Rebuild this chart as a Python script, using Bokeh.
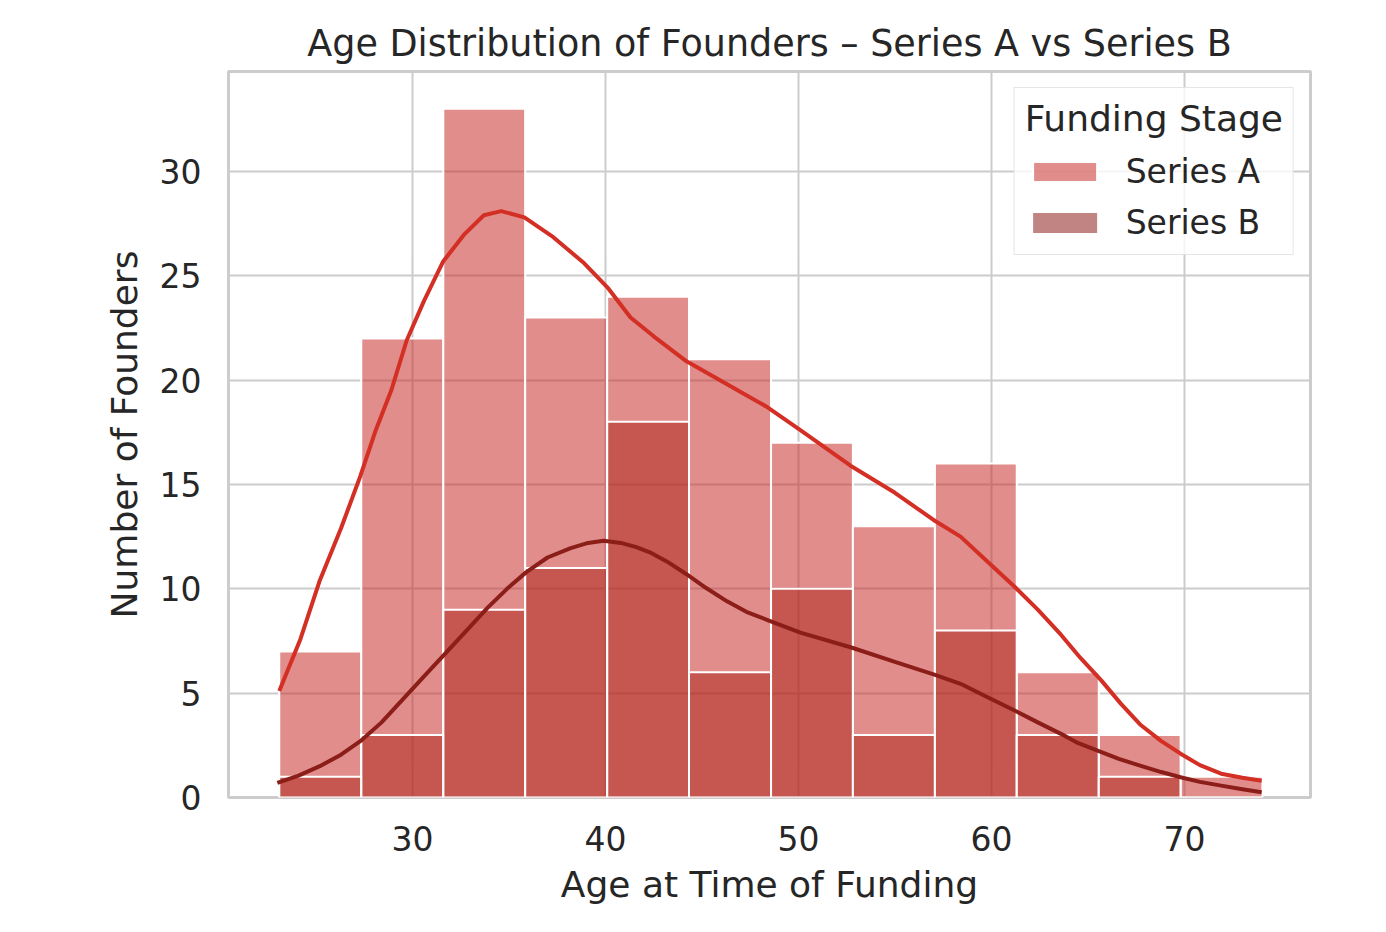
import numpy as np
from bokeh.plotting import figure
from bokeh.models import Legend, LegendItem, Range1d
from bokeh.embed import file_html
from bokeh.resources import INLINE

# histogram bins (age)
bin_edges = [23.1, 27.35, 31.6, 35.84, 40.09, 44.33, 48.58, 52.82, 57.07, 61.31, 65.56, 69.8, 74.04]
counts_a = [7, 22, 33, 23, 24, 21, 17, 13, 16, 6, 3, 1]
counts_b = [1, 3, 9, 11, 18, 6, 10, 3, 8, 3, 1, 0]

# kde curves (scaled to counts), read point by point
kde_x_a = [23.1, 24.2, 25.2, 26.3, 27.3, 28.1, 28.9, 29.7, 30.6, 31.6, 32.7, 33.7, 34.6,
           35.8, 37.3, 38.9, 40.1, 41.3, 42.5, 44.2, 46.3, 48.4, 50.1, 52.7, 55.0, 57.0,
           58.4, 59.8, 61.2, 62.4, 63.6, 64.6, 65.7, 66.7, 67.7, 68.8, 69.8, 70.8, 71.9,
           73.0, 74.0]
kde_y_a = [5.1, 7.6, 10.4, 12.9, 15.4, 17.6, 19.5, 21.9, 23.8, 25.7, 27.0, 27.9, 28.1,
           27.8, 26.85, 25.6, 24.45, 23.0, 22.1, 20.9, 19.8, 18.7, 17.6, 15.9, 14.6, 13.3,
           12.5, 11.3, 10.1, 9.0, 7.8, 6.7, 5.6, 4.5, 3.5, 2.7, 2.1, 1.55, 1.14,
           0.95, 0.8]
kde_x_b = [23.0, 24.1, 25.2, 26.3, 27.3, 28.4, 29.5, 30.6, 31.6, 32.8, 33.9, 34.9, 35.9,
           37.0, 38.2, 39.1, 39.9, 40.8, 41.6, 42.3, 43.2, 44.2, 45.2, 46.3, 47.3, 48.4,
           50.1, 52.7, 55.0, 57.0, 58.4, 59.8, 61.2, 62.4, 63.6, 64.5, 65.5, 66.6, 67.7,
           68.8, 69.8, 70.8, 71.9, 73.0, 74.0]
kde_y_b = [0.7, 1.05, 1.5, 2.05, 2.7, 3.6, 4.7, 5.8, 6.8, 8.0, 9.1, 10.0, 10.8,
           11.5, 11.95, 12.2, 12.3, 12.2, 12.0, 11.75, 11.3, 10.7, 10.05, 9.4, 8.9, 8.5,
           7.9, 7.2, 6.5, 5.9, 5.45, 4.8, 4.17, 3.6, 3.05, 2.6, 2.25, 1.85, 1.53,
           1.22, 0.97, 0.75, 0.57, 0.4, 0.25]

x_ticks = [30, 40, 50, 60, 70]
y_ticks = [0, 5, 10, 15, 20, 25, 30]
stages = ["Series A", "Series B"]

FONT = "DejaVu Sans"
TXT = "#262626"

p = figure(frame_width=1082, frame_height=726,
           x_range=Range1d(20.47, 76.53), y_range=Range1d(0, 34.79),
           output_backend="svg", toolbar_location=None,
           min_border_left=228, min_border_right=68, min_border_top=71, min_border_bottom=120,
           title="Age Distribution of Founders – Series A vs Series B")

p.title.text_font = FONT
p.title.text_font_size = "36.5px"
p.title.text_font_style = "normal"
p.title.text_color = TXT
p.title.align = "center"
p.title.standoff = 13

left = np.array(bin_edges[:-1])
right = np.array(bin_edges[1:])

bars_a = p.quad(left=left, right=right, bottom=0, top=counts_a,
                fill_color="#c9302c", fill_alpha=0.55, line_color="white", line_width=2)
bars_b = p.quad(left=left, right=right, bottom=0, top=counts_b,
                fill_color="#a91f15", fill_alpha=0.5, line_color="white", line_width=2)
# zero-height copy of the B bars, only used for the legend swatch colour
swatch_b = p.quad(left=left, right=right, bottom=counts_b, top=counts_b,
                  fill_color="#850808", fill_alpha=0.5, line_color=None)

p.line(kde_x_a, kde_y_a, line_color="#d32f25", line_width=4, line_join="round")
p.line(kde_x_b, kde_y_b, line_color="#8b1e19", line_width=4, line_join="round")

p.xaxis.ticker = x_ticks
p.yaxis.ticker = y_ticks
p.xaxis.axis_label = "Age at Time of Funding"
p.yaxis.axis_label = "Number of Founders"
for ax in (p.xaxis, p.yaxis):
    ax.axis_line_color = None
    ax.major_tick_line_color = None
    ax.minor_tick_line_color = None
    ax.major_label_text_font = FONT
    ax.major_label_text_font_size = "33px"
    ax.major_label_text_color = TXT
    ax.axis_label_text_font = FONT
    ax.axis_label_text_font_size = "36px"
    ax.axis_label_text_font_style = "normal"
    ax.axis_label_text_color = TXT
p.xaxis.major_label_standoff = 22
p.xaxis.axis_label_standoff = 10
p.yaxis.major_label_standoff = 21
p.yaxis.axis_label_standoff = 12

p.grid.grid_line_color = "#cccccc"
p.grid.grid_line_width = 2
p.outline_line_color = "#cccccc"
p.outline_line_width = 3
p.background_fill_color = "white"
p.border_fill_color = "white"

legend = Legend(items=[LegendItem(label=stages[0], renderers=[bars_a]),
                       LegendItem(label=stages[1], renderers=[swatch_b])],
                location="top_right", title="Funding Stage")
legend.title_text_font = FONT
legend.title_text_font_size = "36px"
legend.title_text_font_style = "normal"
legend.title_text_color = TXT
legend.title_standoff = 10
legend.label_text_font = FONT
legend.label_text_font_size = "33px"
legend.label_text_color = TXT
legend.label_standoff = 21
legend.label_height = 44
legend.glyph_width = 80
legend.glyph_height = 25
legend.spacing = 7
legend.padding = 10
legend.margin = 16
legend.border_line_color = "#cccccc"
legend.border_line_width = 1.5
legend.background_fill_alpha = 0.8
p.add_layout(legend)

open("out.html", "w").write(file_html(p, INLINE))
